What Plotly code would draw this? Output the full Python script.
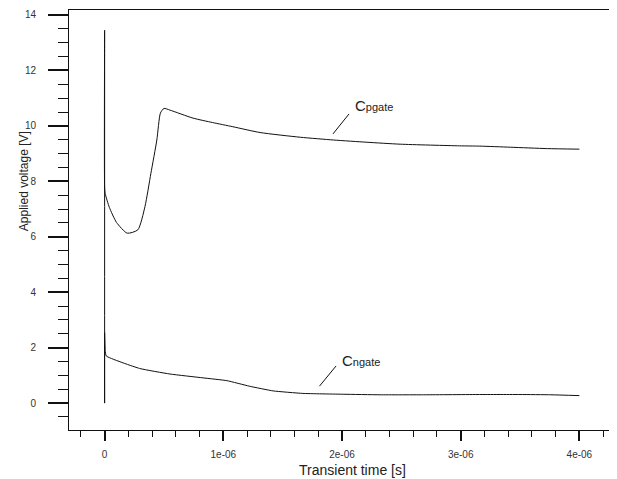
import plotly.graph_objects as go

# ---- data (time in seconds, voltage in V) ----
cp_time = [0, 0, 0, 0.005e-6, 0.04e-6, 0.10e-6, 0.19e-6, 0.28e-6, 0.34e-6, 0.39e-6, 0.44e-6,
           0.47e-6, 0.50e-6, 0.55e-6, 0.745e-6, 0.91e-6, 1.08e-6, 1.31e-6, 1.65e-6, 1.93e-6,
           2.21e-6, 2.49e-6, 2.99e-6, 3.16e-6, 3.42e-6, 3.73e-6, 4.0e-6]
cp_volt = [0.0, 13.45, 7.8, 7.56, 7.06, 6.52, 6.13, 6.25, 7.09, 8.29, 9.49,
           10.46, 10.63, 10.57, 10.28, 10.12, 9.97, 9.76, 9.59, 9.49,
           9.41, 9.34, 9.28, 9.27, 9.23, 9.18, 9.16]

cn_time = [0, 0, 0.005e-6, 0.014e-6, 0.295e-6, 0.55e-6, 0.83e-6, 1.03e-6, 1.22e-6, 1.42e-6,
           1.67e-6, 2.01e-6, 2.32e-6, 2.7e-6, 3.16e-6, 3.5e-6, 3.76e-6, 4.0e-6]
cn_volt = [0.0, 2.54, 1.9, 1.70, 1.25, 1.05, 0.91, 0.81, 0.61, 0.44,
           0.35, 0.32, 0.30, 0.30, 0.31, 0.31, 0.30, 0.27]

x_tickvals = [0, 1e-6, 2e-6, 3e-6, 4e-6]
x_ticktext = ["0", "1e-06", "2e-06", "3e-06", "4e-06"]
x_minor = [i * 0.2e-6 for i in range(-1, 22)]
y_tickvals = [0, 2, 4, 6, 8, 10, 12, 14]
y_minor = [i * 0.5 for i in range(-1, 29)]

label_names = ["C<span style='font-size:11px'>pgate</span>",
               "C<span style='font-size:11px'>ngate</span>"]
label_x = [2.09e-6, 1.98e-6]
label_y = [10.72, 1.55]
leader_x0 = [1.924e-6, 1.81e-6]
leader_y0 = [9.71, 0.61]
leader_x1 = [2.059e-6, 1.95e-6]
leader_y1 = [10.43, 1.34]

FONT = "Liberation Sans, Arial"

fig = go.Figure()
fig.add_trace(go.Scatter(x=cp_time, y=cp_volt, mode="lines",
                         line=dict(color="#111111", width=1, shape="spline", smoothing=0.6),
                         showlegend=False))
fig.add_trace(go.Scatter(x=cn_time, y=cn_volt, mode="lines",
                         line=dict(color="#111111", width=1, shape="spline", smoothing=0.4),
                         showlegend=False))

for i in range(2):
    fig.add_shape(type="line", x0=leader_x0[i], y0=leader_y0[i], x1=leader_x1[i], y1=leader_y1[i],
                  xref="x", yref="y", line=dict(color="#111111", width=1))
    fig.add_annotation(x=label_x[i], y=label_y[i], xref="x", yref="y", text=label_names[i],
                       showarrow=False, xanchor="left", yanchor="middle",
                       font=dict(family=FONT, size=15, color="#222222"))

# axis titles
fig.add_annotation(x=0.52, y=-0.095, xref="paper", yref="paper", text="Transient time [s]",
                   showarrow=False, xanchor="center", yanchor="middle",
                   font=dict(family=FONT, size=14, color="#222222"))
fig.add_annotation(x=-0.082, y=0.593, xref="paper", yref="paper", text="Applied voltage [V]",
                   showarrow=False, xanchor="center", yanchor="middle", textangle=-90,
                   font=dict(family=FONT, size=12, color="#222222"))

# page body has an 8px default margin, so the figure is 8px smaller and margins are offset
fig.update_layout(
    width=609, height=471,
    margin=dict(l=61, r=2, t=2, b=49, autoexpand=False),
    plot_bgcolor="white", paper_bgcolor="white",
    font=dict(family=FONT, size=10, color="#333333"),
    xaxis=dict(range=[-0.30e-6, 4.30e-6], tickmode="array", tickvals=x_tickvals,
               ticktext=x_ticktext, ticks="outside", ticklen=10, tickwidth=2,
               tickcolor="#111111", showgrid=False, zeroline=False, automargin=False,
               showline=True, linecolor="#111111", linewidth=1, mirror=True,
               ticklabelstandoff=5,
               minor=dict(tickmode="array", tickvals=x_minor, ticks="outside", ticklen=6,
                          tickwidth=1, tickcolor="#111111", showgrid=False)),
    yaxis=dict(range=[-0.97, 14.18], tickmode="array", tickvals=y_tickvals,
               ticks="outside", ticklen=20, tickwidth=2, tickcolor="#111111",
               showgrid=False, zeroline=False, automargin=False,
               showline=True, linecolor="#111111", linewidth=1, mirror=True,
               ticklabelstandoff=10,
               minor=dict(tickmode="array", tickvals=y_minor, ticks="outside", ticklen=10,
                          tickwidth=1, tickcolor="#111111", showgrid=False)),
)

fig.write_html("out.html")
